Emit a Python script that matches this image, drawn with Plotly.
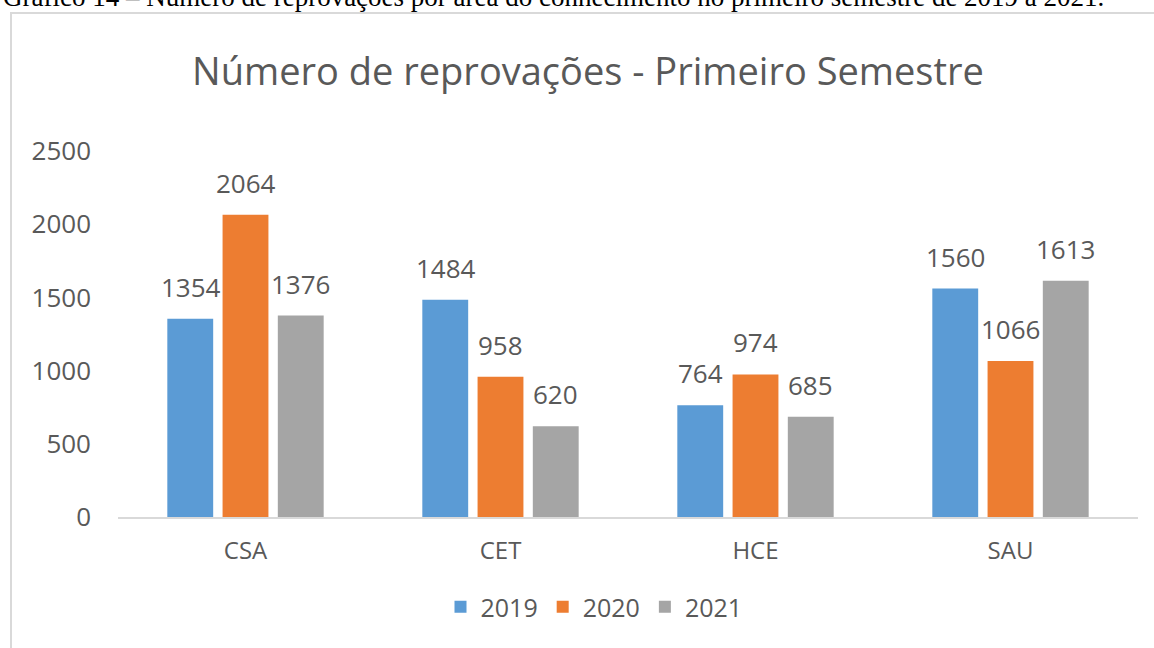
import plotly.graph_objects as go

categories = ["CSA", "CET", "HCE", "SAU"]
years = ["2019", "2020", "2021"]
values_2019 = [1354, 1484, 764, 1560]
values_2020 = [2064, 958, 974, 1066]
values_2021 = [1376, 620, 685, 1613]
series = [values_2019, values_2020, values_2021]
colors = ["#5B9BD5", "#ED7D31", "#A5A5A5"]
y_ticks = [0, 500, 1000, 1500, 2000, 2500]

W, H = 1154, 648
L, R, T, B = 118, 16, 151, 131
pw, ph = W - L - R, H - T - B

def px_x(p):
    return (p - L) / pw

def px_y(p):
    return (H - B - p) / ph

fig = go.Figure()
for name, vals, col in zip(years, series, colors):
    fig.add_trace(go.Bar(
        x=categories, y=vals, name=name, marker_color=col,
        marker_line_width=0,
    ))

# data labels
offsets = [-55, 0, 55]
for vals, off in zip(series, offsets):
    for c, v in zip(categories, vals):
        fig.add_annotation(
            x=c, y=v, text=str(v), showarrow=False, xref="x", yref="y",
            xshift=off, yshift=12, yanchor="bottom",
            font=dict(family="Open Sans", size=26, color="#595959"),
        )

# caption (partly cut at top, as in the reference)
fig.add_annotation(
    x=px_x(1), y=px_y(14), xref="paper", yref="paper", xanchor="left", yanchor="bottom",
    text="Gráfico 14 – Número de reprovações por área do conhecimento no primeiro semestre de 2019 a 2021.",
    showarrow=False, font=dict(family="Liberation Serif", size=27, color="#000000"),
)

# chart border
fig.add_shape(
    type="rect", xref="paper", yref="paper",
    x0=px_x(11), x1=px_x(1170), y0=px_y(13), y1=px_y(700),
    line=dict(color="#D9D9D9", width=2), fillcolor="rgba(0,0,0,0)", layer="below",
)

fig.update_layout(
    width=W, height=H,
    margin=dict(l=L, r=R, t=T, b=B, autoexpand=False),
    paper_bgcolor="white", plot_bgcolor="white",
    barmode="group", bargap=0.35, bargroupgap=0.17,
    title=dict(
        text="Número de reprovações - Primeiro Semestre",
        x=px_x(588), xref="paper", xanchor="center", y=1 - 72 / H, yanchor="middle",
        font=dict(family="Open Sans", size=38, color="#595959"),
    ),
    font=dict(family="Open Sans", color="#595959"),
    legend=dict(
        orientation="h", x=px_x(594), xanchor="center", y=px_y(607), yanchor="middle",
        font=dict(size=25, color="#595959"), itemsizing="constant",
        traceorder="normal", itemwidth=30,
    ),
    xaxis=dict(
        showgrid=False, showline=True, linecolor="#D9D9D9", linewidth=2,
        ticks="", tickfont=dict(size=24, color="#595959"), ticklabelstandoff=11,
    ),
    yaxis=dict(
        range=[0, 2500], tickvals=y_ticks, showgrid=False, zeroline=False,
        showline=False, ticks="", tickfont=dict(size=26, color="#595959"),
        ticklabelstandoff=26,
    ),
)

fig.write_html("out.html", config={"displayModeBar": False},
               post_script="document.body.style.margin='0';")
